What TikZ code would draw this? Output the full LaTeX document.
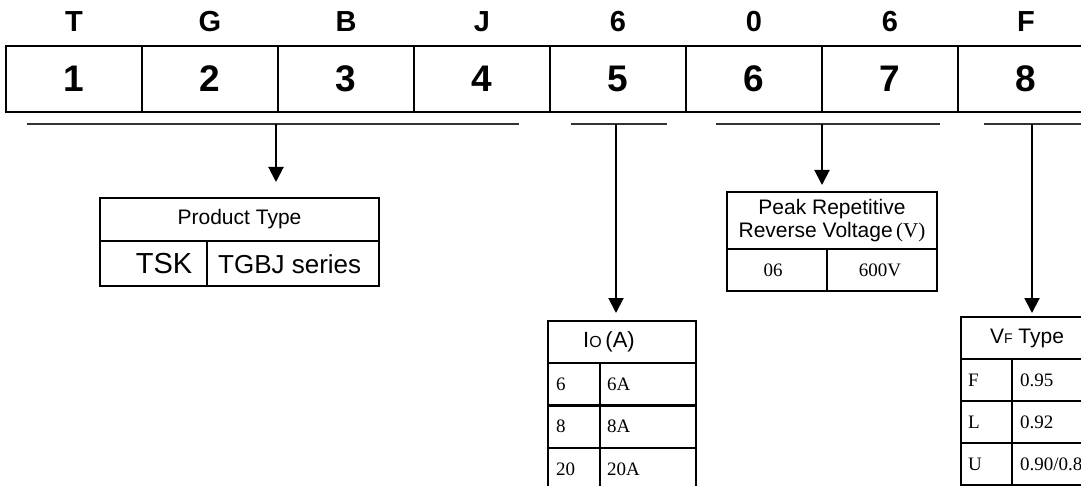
\documentclass[tikz,border=0pt]{standalone}
\usepackage{fontspec}
\setmainfont{Liberation Sans}
\newfontfamily\serfont{Liberation Serif}
\usetikzlibrary{arrows.meta}
\begin{document}
\begin{tikzpicture}[x=1pt,y=-1pt,
  numcell/.style={draw, line width=2.8pt, rectangle, inner sep=0pt, outer sep=0pt, anchor=north west,
    minimum width=136pt, minimum height=66pt, font=\fontsize{37}{40}\selectfont\bfseries},
  letter/.style={inner sep=0pt, font=\fontsize{29}{32}\selectfont\bfseries},
  tbl/.style={draw, line width=2.8pt, rectangle, inner sep=0pt, outer sep=0pt, anchor=north west},
  sans/.style={font=\fontsize{21}{23}\selectfont},
  ser/.style={inner sep=0pt, anchor=west, font=\serfont\fontsize{19}{22}\selectfont},
  uline/.style={line width=2pt, black!80},
  arr/.style={line width=2pt, -{Triangle[width=15pt,length=15pt]}}
]
\useasboundingbox (0,0) rectangle (1081,486);
\clip (0,0) rectangle (1081,486);

% code row
\foreach \i/\d/\l in {1/1/T,2/2/G,3/3/B,4/4/J,5/5/6,6/6/0,7/7/6,8/8/F}{
  \node[numcell] (c\i) at ({6+136*(\i-1)},46) {\d};
  \node[letter] (l\i) at ({74+136*(\i-1)},22) {\l};
}

% underlines
\coordinate (u1a) at (27,124);  \coordinate (u1b) at (519,124);
\coordinate (u2a) at (571,124); \coordinate (u2b) at (667,124);
\coordinate (u3a) at (716,124); \coordinate (u3b) at (940,124);
\coordinate (u4a) at (984,124); \coordinate (u4b) at (1090,124);
\draw[uline] (u1a) -- (u1b);
\draw[uline] (u2a) -- (u2b);
\draw[uline] (u3a) -- (u3b);
\draw[uline] (u4a) -- (u4b);
\coordinate (a1) at (276,124);
\coordinate (a2) at (616,124);
\coordinate (a3) at (822,124);
\coordinate (a4) at (1032,124);

% product type
\node[tbl, sans, minimum width=279pt, minimum height=43pt] (pth) at (100,198) {Product Type};
\node[tbl, minimum width=107pt, minimum height=45pt] (pt1) at (100,241) {};
\node[tbl, minimum width=172pt, minimum height=45pt] (pt2) at (207,241) {};
\node[inner sep=0pt, font=\fontsize{29}{30}\selectfont] (pt1t) at (164,264) {TSK};
\node[inner sep=0pt, anchor=west, font=\fontsize{26}{28}\selectfont] (pt2t) at (218,264) {TGBJ series};

% voltage
\node[tbl, sans, align=center, minimum width=210pt, minimum height=57pt] (vh) at (727,192)
  {Peak Repetitive\\Reverse Voltage{\serfont\fontsize{21}{22}\selectfont\,(V)}};
\node[tbl, minimum width=100pt, minimum height=42pt] (v1) at (727,249) {};
\node[tbl, minimum width=110pt, minimum height=42pt] (v2) at (827,249) {};
\node[ser, anchor=center] (v1t) at (773,270) {06};
\node[ser, anchor=center] (v2t) at (880,270) {600V};

% Io table
\node[tbl, minimum width=148pt, minimum height=42pt] (ioh) at (548,321) {};
\node[inner sep=0pt, font=\fontsize{22}{24}\selectfont] (ioht) at (609,342) {I{\fontsize{16}{18}\selectfont O}\,(A)};
\foreach \r/\a/\b in {0/6/6A,1/8/8A,2/20/20A}{
  \node[tbl, minimum width=52pt, minimum height=42.5pt] (ioL\r) at (548,{363+42.5*\r}) {};
  \node[tbl, minimum width=96pt, minimum height=42.5pt] (ioR\r) at (600,{363+42.5*\r}) {};
  \node[ser] (ioLt\r) at (556,{384+42.5*\r}) {\a};
  \node[ser] (ioRt\r) at (607,{384+42.5*\r}) {\b};
}

% VF table
\node[tbl, minimum width=140pt, minimum height=42pt] (vfh) at (961,317) {};
\node[inner sep=0pt, font=\fontsize{21}{23}\selectfont] (vfht) at (1027,338) {V{\fontsize{14}{16}\selectfont F} Type};
\foreach \r/\a/\b in {0/F/{0.95},1/L/{0.92},2/U/{0.90/0.8}}{
  \node[tbl, minimum width=51pt, minimum height=42pt] (vfL\r) at (961,{359+42*\r}) {};
  \node[tbl, minimum width=89pt, minimum height=42pt] (vfR\r) at (1012,{359+42*\r}) {};
  \node[ser] (vfLt\r) at (968,{380+42*\r}) {\a};
  \node[ser] (vfRt\r) at (1020,{380+42*\r}) {\b};
}

% arrows
\draw[arr, shorten >=16pt] (a1) -- (a1 |- pth.north);
\draw[arr, shorten >=8pt] (a2) -- (a2 |- ioh.north);
\draw[arr, shorten >=7pt] (a3) -- (a3 |- vh.north);
\draw[arr, shorten >=4pt] (a4) -- (a4 |- vfh.north);
\end{tikzpicture}
\end{document}
